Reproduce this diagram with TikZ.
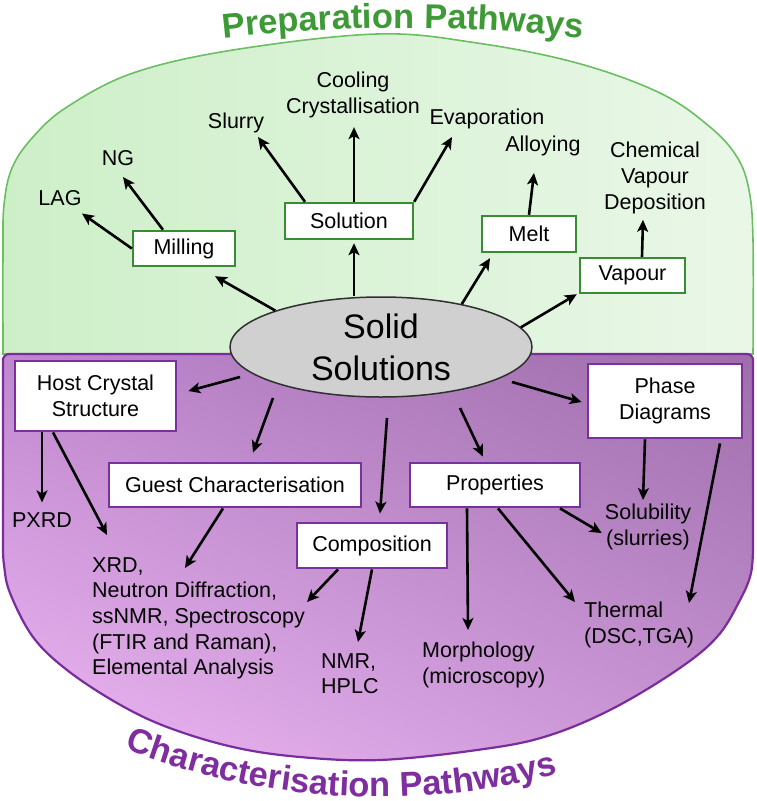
\documentclass[tikz,border=0pt]{standalone}
\usepackage{fontspec}
\setmainfont{Liberation Sans}
\usetikzlibrary{shapes.geometric, arrows.meta, decorations.text, shadings}
\definecolor{gfillL}{HTML}{CDEFC8}
\definecolor{gfillR}{HTML}{EAF7E8}
\definecolor{gborder}{HTML}{6BBF62}
\definecolor{boxgreen}{HTML}{3A8C34}
\definecolor{titgreen}{HTML}{3D9A36}
\definecolor{pborder}{HTML}{7A2C9C}
\definecolor{pUL}{HTML}{BF88CE}
\definecolor{pUR}{HTML}{9E6EAA}
\definecolor{pLL}{HTML}{EEB8F4}
\definecolor{pLR}{HTML}{C893D4}
\definecolor{boxpurple}{HTML}{7B30A0}
\definecolor{titpurple}{HTML}{7E2E9E}
\definecolor{ellfill}{HTML}{D0D0D0}
\definecolor{ellborder}{HTML}{303030}
\newcommand{\mylab}{\fontsize{21.5}{25.7}\selectfont}
\newcommand{\mytitle}{\fontsize{34.5}{40}\selectfont\bfseries}
\newcommand{\myell}{\fontsize{34}{42}\selectfont}
\begin{document}
\begin{tikzpicture}[x=1pt,y=-1pt,
  gboxs/.style={draw=boxgreen, line width=2.4pt, fill=white, font=\mylab, inner sep=0pt, align=center},
  pboxs/.style={draw=boxpurple, line width=2.8pt, fill=white, font=\mylab, inner sep=0pt, align=center},
  lbl/.style={font=\mylab, inner sep=0pt, align=center},
  lbll/.style={font=\mylab, inner sep=0pt, align=left, anchor=north west},
  ellst/.style={ellipse, draw=ellborder, line width=1.5pt, fill=ellfill, minimum width=302pt, minimum height=100pt, inner sep=0pt, font=\myell, align=center},
  arr/.style={line width=2.6pt, -{Stealth[length=12pt,width=11pt,inset=3pt]}}]
\useasboundingbox (0,0) rectangle (757,801);

% green region
\shadedraw[left color=gfillL, right color=gfillR, draw=gborder, line width=1.6pt]
  plot[smooth, tension=0.6] coordinates {(3,354) (3,250) (4,205) (12,168) (33,137) (67,107) (133,73) (233,50) (377,34) (477,43) (577,63) (660,93) (710,127) (737,157) (749,190) (753,240) (753,354)} -- cycle;

% purple region
\shadedraw[upper left=pUL, upper right=pUR, lower left=pLL, lower right=pLR, draw=pborder, line width=2.2pt]
  (3,545) [rounded corners=6pt] -- (3,354) -- (753,354) [sharp corners] -- (753,545)
  -- plot[smooth, tension=0.6] coordinates {(753,545) (751,573) (740,600) (717,637) (677,670) (610,710) (544,737) (477,750) (380,760) (300,757) (233,747) (167,727) (117,703) (67,670) (33,637) (10,593) (4,565) (3,545)} -- cycle;

% titles
\path[decorate, decoration={text along path, text align=center,
  text={|\mytitle\color{titgreen}|Preparation Pathways}}]
  ([shift={(262:1615)}]403,1643) arc[start angle=262, end angle=278, radius=1615];
\path[decorate, decoration={text along path, text align=left,
  text={|\mytitle\color{titpurple}|Characterisation Pathways}}]
  ([shift={(111.4:700)}]380,97) arc[start angle=111.4, end angle=55, radius=700];

% central ellipse
\node[ellst] (ell) at (381,347) {Solid\\Solutions};

% preparation boxes
\node[gboxs, minimum width=102pt, minimum height=35pt] (mil) at (184,248.5) {Milling};
\node[gboxs, minimum width=128pt, minimum height=36pt] (sol) at (349,221) {Solution};
\node[gboxs, minimum width=94pt, minimum height=36pt] (melt) at (529,234) {Melt};
\node[gboxs, minimum width=105pt, minimum height=35pt] (vap) at (632.5,275.5) {Vapour};

% characterisation boxes
\node[pboxs, minimum width=161pt, minimum height=70pt] (host) at (95.5,396) {Host Crystal\\Structure};
\node[pboxs, minimum width=252pt, minimum height=44pt] (guest) at (235,485) {Guest Characterisation};
\node[pboxs, minimum width=150pt, minimum height=45pt] (comp) at (372,545.5) {Composition};
\node[pboxs, minimum width=170pt, minimum height=44pt] (prop) at (495,485) {Properties};
\node[pboxs, minimum width=154pt, minimum height=74pt] (phase) at (665,401) {Phase\\Diagrams};

% labels
\node[lbl] (lag) at (60,198.5) {LAG};
\node[lbl] (ng) at (118,158) {NG};
\node[lbl] (slurry) at (236,123) {Slurry};
\node[lbl, anchor=north] (cool) at (353,72) {Cooling\\Crystallisation};
\node[lbl] (evap) at (487,119) {Evaporation};
\node[lbl] (alloy) at (543,146) {Alloying};
\node[lbl, anchor=north] (cvd) at (655,142) {Chemical\\Vapour\\Deposition};
\node[lbl] (pxrd) at (42,520) {PXRD};
\node[lbll] (xrd) at (92,557) {XRD,\\Neutron Diffraction,\\ssNMR, Spectroscopy\\(FTIR and Raman),\\Elemental Analysis};
\node[lbll] (nmr) at (321,653) {NMR,\\HPLC};
\node[lbl, anchor=north] (solub) at (648,504) {Solubility\\(slurries)};
\node[lbll] (therm) at (584,602) {Thermal\\(DSC,TGA)};
\node[lbll] (morph) at (422,642) {Morphology\\(microscopy)};

% preparation arrows
\draw[arr] (ell.161.7) -- ([xshift=31pt,yshift=-9pt]mil.south);
\draw[arr] (mil.west) -- ([xshift=22pt,yshift=-15pt]lag.center);
\draw[arr] ([xshift=-21pt]mil.north) -- ([xshift=5pt,yshift=-19pt]ng.center);
\draw[arr] ([xshift=-27pt]ell.north) -- ([xshift=5pt,yshift=-3pt]sol.south);
\draw[arr] ([xshift=-44pt]sol.north) -- ([xshift=22pt,yshift=-14pt]slurry.center);
\draw[arr] ([xshift=5pt]sol.north) -- ([xshift=1pt,yshift=-9pt]cool.south);
\draw[arr] (sol.north east) -- ([xshift=-35pt,yshift=-18pt]evap.center);
\draw[arr] (ell.28) -- ([xshift=-39pt,yshift=-5pt]melt.south);
\draw[arr] (melt.north) -- ([xshift=-9pt,yshift=-27pt]alloy.center);
\draw[arr] (ell.8.7) -- ([xshift=-2pt]vap.south west);
\draw[arr] ([xshift=9.5pt]vap.north) -- ([xshift=-12pt,yshift=-6pt]cvd.south);

% characterisation arrows
\draw[arr] ([xshift=-141pt,yshift=-30pt]ell.center) -- ([xshift=11pt,yshift=5pt]host.east);
\draw[arr] ([xshift=-108pt,yshift=-51pt]ell.center) -- ([xshift=18pt,yshift=9pt]guest.north);
\draw[arr] ([xshift=-53.5pt]host.south) -- ([yshift=10pt]pxrd.north);
\draw[arr] ([xshift=-42.5pt]host.south) -- ([xshift=15pt,yshift=22pt]xrd.north west);
\draw[arr] ([xshift=-12pt]guest.south) -- ([xshift=93pt,yshift=-11pt]xrd.north west);
\draw[arr] ([xshift=6pt,yshift=-71pt]ell.center) -- ([xshift=8pt,yshift=8pt]comp.north);
\draw[arr] ([xshift=-34pt]comp.south) -- ([xshift=215pt,yshift=-45pt]xrd.north west);
\draw[arr] (comp.south) -- ([xshift=37pt,yshift=11pt]nmr.north west);
\draw[arr] ([xshift=79pt,yshift=-61pt]ell.center) -- ([xshift=-12pt,yshift=5pt]prop.north);
\draw[arr] ([xshift=131pt,yshift=-35pt]ell.center) -- ([xshift=-5pt,yshift=-1pt]phase.west);
\draw[arr] ([xshift=-20pt]phase.south) -- ([xshift=-5pt,yshift=4pt]solub.north);
\draw[arr] ([xshift=55pt,yshift=-4pt]phase.south) -- ([xshift=105pt,yshift=-1pt]therm.north west);
\draw[arr] ([xshift=65pt]prop.south) -- ([xshift=-3pt,yshift=-6pt]solub.west);
\draw[arr] ([xshift=3pt]prop.south) -- ([xshift=-9pt]therm.north west);
\draw[arr] ([xshift=-28pt]prop.south) -- ([xshift=46pt,yshift=12pt]morph.north west);
\end{tikzpicture}
\end{document}
